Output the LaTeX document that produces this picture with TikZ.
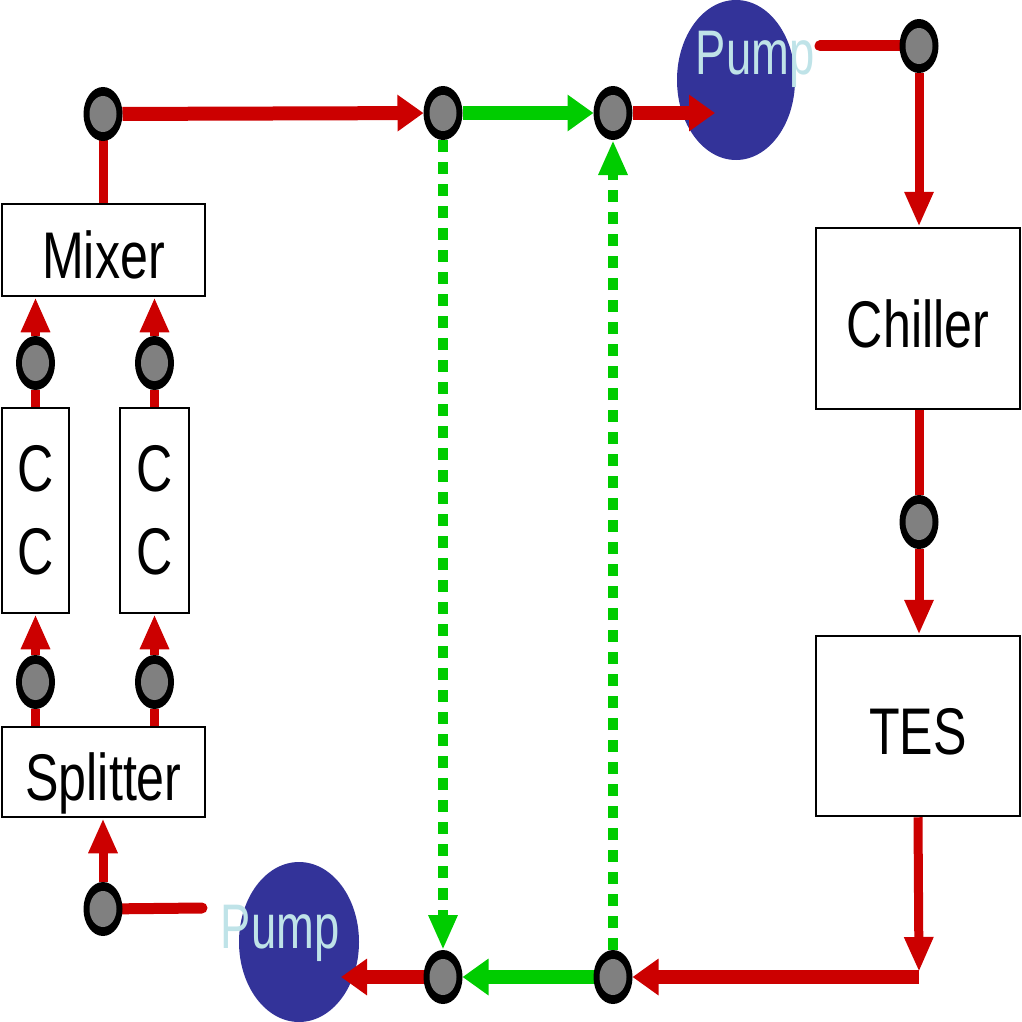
\documentclass[tikz,border=0pt]{standalone}
\usepackage{fontspec}
\usetikzlibrary{arrows.meta,shapes.geometric}
\newfontfamily\labfont[FakeStretch=0.76]{Liberation Sans}
\newfontfamily\pumpfont[FakeStretch=0.72]{Liberation Sans}
\definecolor{pipered}{HTML}{CC0000}
\definecolor{pipegreen}{HTML}{00CC00}
\definecolor{nodegray}{HTML}{808080}
\definecolor{pumpblue}{HTML}{333399}
\definecolor{pumptext}{HTML}{BFE3E8}
\pgfdeclarelayer{pumplayer}
\pgfdeclarelayer{pipes}
\pgfsetlayers{pumplayer,pipes,main}
\tikzset{
  junction/.style={ellipse,fill=black,minimum width=39pt,minimum height=54pt,inner sep=0pt,outer sep=0pt,
    path picture={\fill[nodegray] (path picture bounding box.center) ellipse (13.5pt and 18pt);}},
  unitbox/.style={rectangle,draw=black,line width=2.5pt,fill=white,inner sep=0pt,font=\labfont\fontsize{66}{80}\selectfont},
  onelinebox/.style={unitbox,text height=57pt,text depth=0pt},
  ccbox/.style={unitbox,align=center,font=\labfont\fontsize{66}{83}\selectfont},
  pumpshape/.style={ellipse,fill=pumpblue,inner sep=0pt},
  pumplabel/.style={anchor=base,text=pumptext,inner sep=0pt,font=\pumpfont\fontsize{63}{70}\selectfont},
  redH/.style={draw=pipered,line width=14pt},
  redHt/.style={draw=pipered,line width=11pt},
  redV/.style={draw=pipered,line width=9pt},
  greenH/.style={draw=pipegreen,line width=14pt},
  greenV/.style={draw=pipegreen,line width=10pt,dash pattern=on 12pt off 10pt},
  tipH/.style={-{Triangle[length=26pt,width=35pt]}},
  tipV/.style={-{Triangle[length=35pt,width=27pt]}},
}
\begin{document}
\begin{tikzpicture}[x=1pt,y=-1pt]
\useasboundingbox (0,0) rectangle (1022,1022);
% pumps
\begin{pgfonlayer}{pumplayer}
\node[pumpshape,minimum width=118pt,minimum height=160pt] (pumpT) at (736,80) {};
\node[pumpshape,minimum width=120pt,minimum height=160pt] (pumpB) at (299,942) {};
\end{pgfonlayer}
% boxes
\node[onelinebox,minimum width=203pt,minimum height=92pt] (mixer) at (103.5,250) {Mixer};
\node[ccbox,minimum width=67pt,minimum height=205pt] (ccL) at (35.5,510.5) {C\\C};
\node[ccbox,minimum width=69pt,minimum height=205pt] (ccR) at (154.5,510.5) {C\\C};
\node[onelinebox,minimum width=203pt,minimum height=90pt] (splitter) at (103.5,772) {Splitter};
\node[onelinebox,minimum width=204pt,minimum height=181pt] (chiller) at (918,318.5) {Chiller};
\node[onelinebox,minimum width=204pt,minimum height=180pt] (tes) at (918,726) {TES};
% junctions
\node[junction] (n1) at (103,114) {};
\node[junction] (n2) at (443,113) {};
\node[junction] (n3) at (613,113) {};
\node[junction] (n4) at (919,46) {};
\node[junction] (n5) at (919,522) {};
\node[junction] (n6) at (613,977) {};
\node[junction] (n7) at (443,977) {};
\node[junction] (n8) at (103,909) {};
\node[junction] (cl1) at (35.5,363) {};
\node[junction] (cr1) at (154.5,363) {};
\node[junction] (cl2) at (35.5,682) {};
\node[junction] (cr2) at (154.5,682) {};
% free ends
\coordinate (pTin) at (715,113);
\coordinate (pTout) at (820,46);
\coordinate (pBin) at (341,977);
\coordinate (pBout) at (202,908);
\coordinate (corner) at (919,977);
\coordinate (vtip) at (919,972);
\begin{pgfonlayer}{pipes}
% red connectors
\draw[redV,line cap=round] (n1) -- (n1 |- mixer.north);
\draw[redH,tipH] (n1) -- (n2);
\draw[redH,tipH] (n3) -- (pTin);
\draw[redHt,line cap=round] (pTout) -- (n4);
\draw[redV,tipV] (n4) -- (n4 |- chiller.north);
\draw[redV] (n5 |- chiller.south) -- (n5);
\draw[redV,tipV] (n5) -- (n5 |- tes.north);
\draw[redV,tipV] (tes.south) -- (vtip);
\draw[redH,tipH] (corner) -- (n6);
\draw[redH,tipH] (n7) -- (pBin);
\draw[redHt,line cap=round] (n8) -- (pBout);
\draw[redV,tipV] (n8) -- (n8 |- splitter.south);
\draw[redV] (splitter.north -| cl2) -- (cl2);
\draw[redV] (splitter.north -| cr2) -- (cr2);
\draw[redV,tipV] (cl2) -- (cl2 |- ccL.south);
\draw[redV,tipV] (cr2) -- (cr2 |- ccR.south);
\draw[redV] (ccL.north) -- (cl1);
\draw[redV] (ccR.north) -- (cr1);
\draw[redV,tipV] (cl1) -- (cl1 |- mixer.south);
\draw[redV,tipV] (cr1) -- (cr1 |- mixer.south);
% green connectors
\draw[greenH,tipH] (n2) -- (n3);
\draw[greenH,tipH] (n6) -- (n7);
\draw[greenV,tipV] (n2) -- (n7);
\draw[greenV,tipV] (n6) -- (n3);
\end{pgfonlayer}
% pump labels
\node[pumplabel] (pumpTlabel) at (755,75) {Pump};
\node[pumplabel] (pumpBlabel) at (280,948) {Pump};
\end{tikzpicture}
\end{document}
